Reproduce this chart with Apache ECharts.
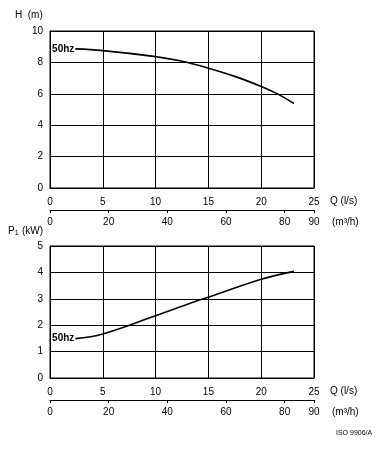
<!DOCTYPE html>
<html>
<head>
<meta charset="utf-8">
<script src="https://cdn.jsdelivr.net/npm/echarts@6/dist/echarts.min.js"></script>
<style>
html,body{margin:0;padding:0;background:#fff;}
#chart{width:384px;height:450px;}
</style>
</head>
<body>
<div id="chart"></div>
<script>
// ---- data ----
const headQ = [2.4, 5, 10, 12.3, 15, 17.5, 20, 21.5, 23.1];        // Q (l/s)
const headH = [8.86, 8.75, 8.37, 8.1, 7.63, 7.11, 6.47, 6.01, 5.38]; // H (m)
const powerQ = [2.4, 5, 10, 14.2, 15, 20, 23.1];                     // Q (l/s)
const powerP = [1.49, 1.67, 2.36, 2.96, 3.06, 3.74, 4.04];           // P1 (kW)
const flowTicksM3h = [0, 20, 40, 60, 80, 90];                        // m3/h ticks
const curveLabel = '50hz';

const FONT = 'Liberation Sans';
const black = '#000';

function pts(xs, ys) {
  return xs.map((x, i) => {
    const d = { value: [x, ys[i]] };
    if (i === 0) {
      d.label = { show: true, position: 'left', distance: 1, formatter: curveLabel,
        fontWeight: 'bold', fontSize: 10, fontFamily: FONT, color: black };
    }
    return d;
  });
}

function primaryX(grid) {
  return {
    type: 'value', gridIndex: grid, min: 0, max: 25, interval: 5, position: 'bottom',
    axisLine: { show: true, lineStyle: { color: black, width: 1 } },
    axisTick: { show: false },
    axisLabel: { color: black, fontFamily: FONT, fontSize: 10, margin: 9 },
    splitLine: { show: true, lineStyle: { color: black, width: 1 } }
  };
}
function secondaryX(grid) {
  return {
    type: 'value', gridIndex: grid, min: 0, max: 90, position: 'bottom', offset: 22,
    axisLine: { show: true, onZero: false, lineStyle: { color: black, width: 1 } },
    axisTick: { show: true, length: 3, customValues: flowTicksM3h, lineStyle: { color: black } },
    axisLabel: { color: black, fontFamily: FONT, fontSize: 10, margin: 7, customValues: flowTicksM3h },
    splitLine: { show: false }
  };
}
function yAx(grid, max, interval) {
  return {
    type: 'value', gridIndex: grid, min: 0, max: max, interval: interval,
    axisLine: { show: true, lineStyle: { color: black, width: 1 } },
    axisTick: { show: false },
    axisLabel: { color: black, fontFamily: FONT, fontSize: 10, margin: 7 },
    splitLine: { show: true, lineStyle: { color: black, width: 1 } }
  };
}

const chart = echarts.init(document.getElementById('chart'), null, { renderer: 'canvas' });
const txt = (left, top, text, extra) => Object.assign({
  type: 'text', left: left, top: top,
  style: Object.assign({ text: text, fill: black, font: '10px "' + FONT + '"' }, extra || {})
});

chart.setOption({
  animation: false,
  backgroundColor: '#fff',
  grid: [
    { left: 50, top: 31, width: 264, height: 157, show: true, borderColor: black, borderWidth: 1 },
    { left: 50, top: 246, width: 264, height: 132, show: true, borderColor: black, borderWidth: 1 }
  ],
  xAxis: [primaryX(0), secondaryX(0), primaryX(1), secondaryX(1)],
  yAxis: [yAx(0, 10, 2), yAx(1, 5, 1)],
  series: [
    { type: 'line', xAxisIndex: 0, yAxisIndex: 0, data: pts(headQ, headH),
      symbol: 'circle', symbolSize: 0, showSymbol: true, smooth: 0.4,
      itemStyle: { color: black }, lineStyle: { color: black, width: 1.6 } },
    { type: 'line', xAxisIndex: 2, yAxisIndex: 1, data: pts(powerQ, powerP),
      symbol: 'circle', symbolSize: 0, showSymbol: true, smooth: 0.4,
      itemStyle: { color: black }, lineStyle: { color: black, width: 1.6 } }
  ],
  graphic: [
    txt(15, 10, 'H  (m)'),
    txt(330, 196, 'Q (l/s)'),
    txt(332, 217, '(m³/h)'),
    { type: 'text', left: 8, top: 225, style: {
        text: '{p|P}{s|1} {p|(kW)}', fill: black,
        rich: { p: { fontSize: 10, fontFamily: FONT, fill: black },
                s: { fontSize: 7, fontFamily: FONT, fill: black, padding: [5, 0, 0, 0] } } } },
    txt(330, 386, 'Q (l/s)'),
    txt(332, 407, '(m³/h)'),
    txt(336, 430, 'ISO 9906/A', { font: '7px "' + FONT + '"' })
  ]
});
</script>
</body>
</html>
